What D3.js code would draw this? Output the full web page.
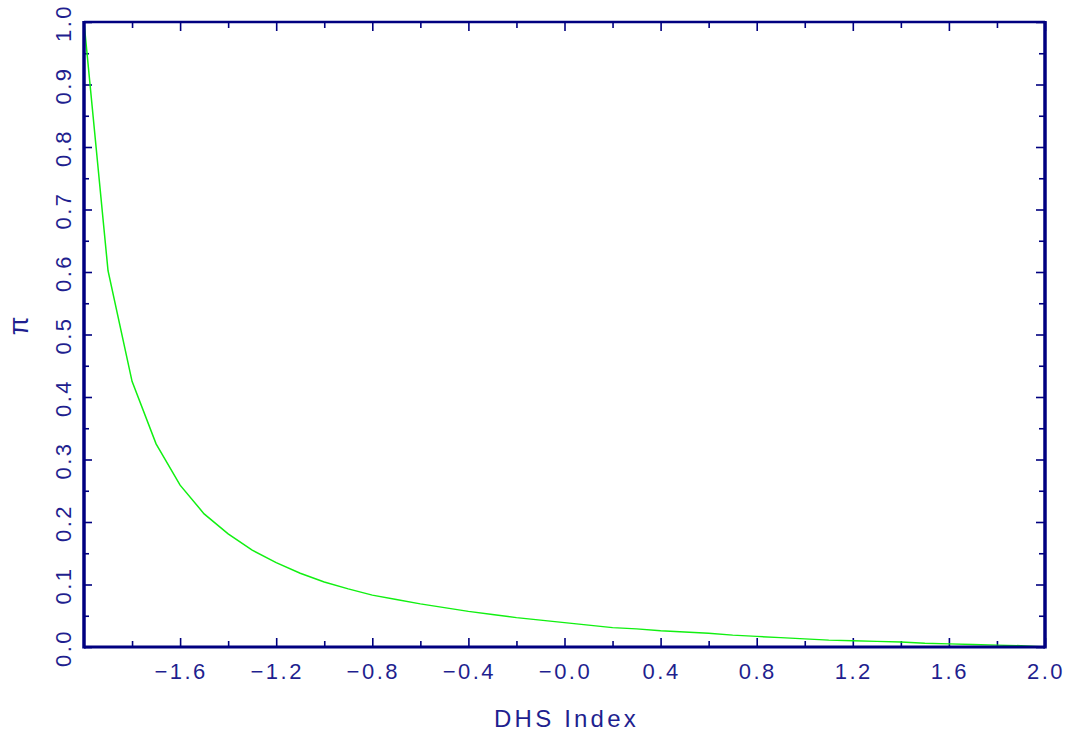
<!DOCTYPE html>
<html><head><meta charset="utf-8">
<script src="https://cdn.jsdelivr.net/npm/d3@7"></script>
<style>
html,body{margin:0;padding:0;background:#fff;}
svg{display:block;}
text{font-family:"Liberation Sans",Arial,sans-serif;fill:#1f1f8f;}
</style></head><body>
<svg id="c" width="1076" height="739"></svg>
<script>
const xValues = [-2.0,-1.9,-1.8,-1.7,-1.6,-1.5,-1.4,-1.3,-1.2,-1.1,-1.0,-0.9,-0.8,-0.7,-0.6,-0.5,-0.4,-0.3,-0.2,-0.1,0.0,0.1,0.2,0.3,0.4,0.5,0.6,0.7,0.8,0.9,1.0,1.1,1.2,1.3,1.4,1.5,1.6,1.7,1.8,1.9,2.0];
const piValues = [1.0,0.602,0.425,0.325,0.259,0.213,0.181,0.155,0.135,0.118,0.104,0.093,0.083,0.076,0.069,0.063,0.057,0.052,0.047,0.043,0.039,0.035,0.031,0.029,0.026,0.024,0.022,0.019,0.017,0.015,0.013,0.011,0.010,0.009,0.008,0.006,0.005,0.004,0.003,0.002,0.0];
const xTickLabels = ["\u22121.6","\u22121.2","\u22120.8","\u22120.4","\u22120.0","0.4","0.8","1.2","1.6","2.0"];
const xTickValues = [-1.6,-1.2,-0.8,-0.4,0.0,0.4,0.8,1.2,1.6,2.0];
const xMinorTicks = [-1.8,-1.4,-1.0,-0.6,-0.2,0.2,0.6,1.0,1.4,1.8];
const yTickValues = [0.0,0.1,0.2,0.3,0.4,0.5,0.6,0.7,0.8,0.9,1.0];
const yTickLabels = ["0.0","0.1","0.2","0.3","0.4","0.5","0.6","0.7","0.8","0.9","1.0"];
const yMinorTicks = [0.05,0.15,0.25,0.35,0.45,0.55,0.65,0.75,0.85,0.95];
const xTitle = "DHS Index";
const yTitle = "\u03C0";

const L=84, R=1045, T=22, B=647;
const axisColor="#000080", textColor="#1f1f8f";
const svg=d3.select("#c");
const x=d3.scaleLinear().domain([-2,2]).range([L,R]);
const y=d3.scaleLinear().domain([0,1]).range([B,T]);

function styleAxis(g){
  g.select(".domain").remove();
  g.selectAll(".tick line").attr("stroke",axisColor).attr("stroke-width",1.6);
  g.selectAll(".tick text").remove();
}
svg.append("g").attr("transform",`translate(0,${B})`).call(d3.axisBottom(x).tickValues(xTickValues).tickSize(-9)).call(styleAxis);
svg.append("g").attr("transform",`translate(0,${B})`).call(d3.axisBottom(x).tickValues(xMinorTicks).tickSize(-6)).call(styleAxis);
svg.append("g").attr("transform",`translate(0,${T})`).call(d3.axisTop(x).tickValues(xTickValues).tickSize(-9)).call(styleAxis);
svg.append("g").attr("transform",`translate(0,${T})`).call(d3.axisTop(x).tickValues(xMinorTicks).tickSize(-6)).call(styleAxis);
svg.append("g").attr("transform",`translate(${L},0)`).call(d3.axisLeft(y).tickValues(yTickValues).tickSize(-8)).call(styleAxis);
svg.append("g").attr("transform",`translate(${L},0)`).call(d3.axisLeft(y).tickValues(yMinorTicks).tickSize(-5)).call(styleAxis);
svg.append("g").attr("transform",`translate(${R},0)`).call(d3.axisRight(y).tickValues(yTickValues).tickSize(-9)).call(styleAxis);
svg.append("g").attr("transform",`translate(${R},0)`).call(d3.axisRight(y).tickValues(yMinorTicks).tickSize(-6)).call(styleAxis);

const data=xValues.map((v,i)=>[v,piValues[i]]);
svg.append("path").datum(data)
  .attr("fill","none").attr("stroke","#11f011").attr("stroke-width",1.5)
  .attr("d",d3.line().x(d=>x(d[0])).y(d=>y(d[1])));

svg.append("line").attr("x1",L).attr("x2",R).attr("y1",T).attr("y2",T).attr("stroke",axisColor).attr("stroke-width",2.5);
svg.append("line").attr("x1",L).attr("x2",R).attr("y1",B).attr("y2",B).attr("stroke",axisColor).attr("stroke-width",3);
svg.append("line").attr("x1",L).attr("x2",L).attr("y1",T-1).attr("y2",B+1.5).attr("stroke",axisColor).attr("stroke-width",3.5);
svg.append("line").attr("x1",R).attr("x2",R).attr("y1",T-1).attr("y2",B+1.5).attr("stroke",axisColor).attr("stroke-width",3.5);

svg.append("g").selectAll("text").data(xTickValues).join("text")
  .attr("x",d=>x(d)+1).attr("y",679)
  .attr("text-anchor","middle").attr("font-size",22).attr("letter-spacing",2.5)
  .style("fill",textColor)
  .text((d,i)=>xTickLabels[i]);
svg.append("g").selectAll("text").data(yTickValues).join("text")
  .attr("transform",d=>`translate(71,${y(d)+1}) rotate(-90)`)
  .attr("text-anchor","middle").attr("font-size",22).attr("letter-spacing",2.5)
  .style("fill",textColor)
  .text((d,i)=>yTickLabels[i]);
svg.append("text").attr("x",x(0)+2).attr("y",727).attr("text-anchor","middle")
  .attr("font-size",24).attr("letter-spacing",3.2).style("fill",textColor).text(xTitle);
svg.append("text").attr("transform",`translate(28,326) rotate(-90)`).attr("text-anchor","middle")
  .attr("font-size",27).style("fill",textColor).text(yTitle);
</script>
</body></html>
